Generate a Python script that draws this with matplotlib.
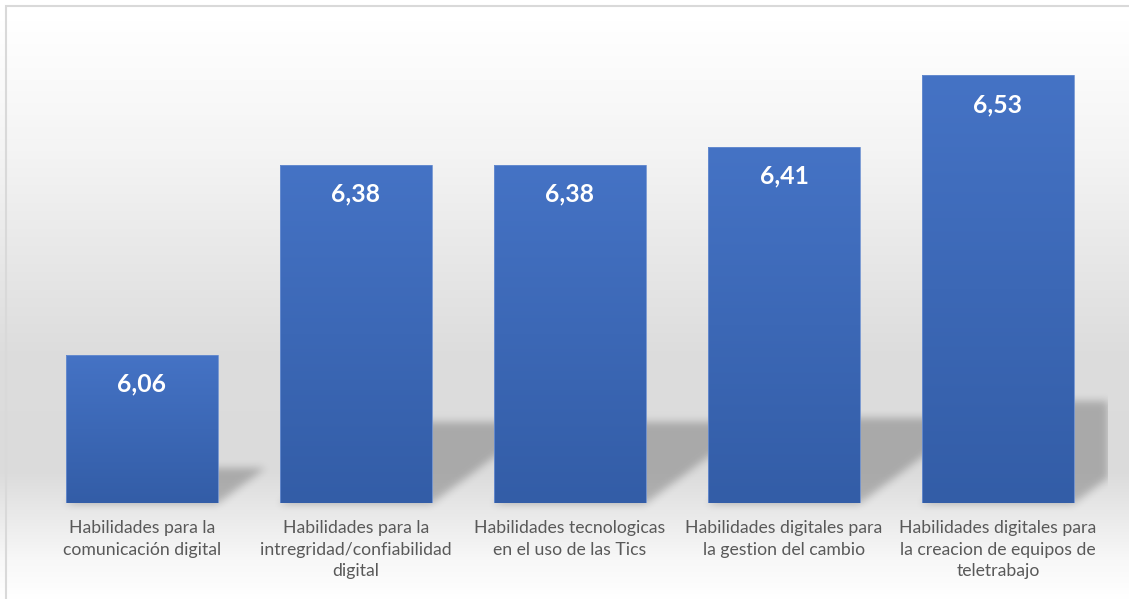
import numpy as np
import matplotlib
matplotlib.use("Agg")
import matplotlib.pyplot as plt
from matplotlib.colors import LinearSegmentedColormap
from matplotlib.patches import Rectangle

categories = [
    "Habilidades para la\ncomunicación digital",
    "Habilidades para la\nintregridad/confiabilidad\ndigital",
    "Habilidades tecnologicas\nen el uso de las Tics",
    "Habilidades digitales para\nla gestion del cambio",
    "Habilidades digitales para\nla creacion de equipos de\nteletrabajo",
]
values = [6.06, 6.38, 6.38, 6.41, 6.53]
value_labels = ["6,06", "6,38", "6,38", "6,41", "6,53"]

W, H = 1129, 599
fig = plt.figure(figsize=(W / 100, H / 100), dpi=100)

# background gradient (figure-wide)
bg = fig.add_axes([0, 0, 1, 1], zorder=-10)
bg.set_axis_off()
ys = np.arange(H)
stops_y = [0, 20, 150, 350, 470, 510, 560, 599]
stops_c = [255, 255, 244, 221, 219, 232, 248, 255]
col = np.interp(ys, stops_y, stops_c) / 255.0
grad = np.repeat(col[:, None], W, axis=1)
rgb = np.dstack([grad, grad, grad])
bg.imshow(rgb, extent=[0, W, H, 0], aspect="auto", interpolation="bilinear")
bg.set_xlim(0, W)
bg.set_ylim(H, 0)

ymin, ymax = 5.81, 6.60
ax_left, ax_right = 35, 1105
ax_bottom_px = 503
ax_top_px = ax_bottom_px - (ymax - ymin) * 593.75
ax = fig.add_axes([ax_left / W, (H - ax_bottom_px) / H,
                   (ax_right - ax_left) / W, (ax_bottom_px - ax_top_px) / H])
ax.set_facecolor("none")
x = np.arange(len(values))
ax.set_xlim(-0.5, len(values) - 0.5)
ax.set_ylim(ymin, ymax)

bars = ax.bar(x, values, width=0.71, bottom=0, color="none",
              edgecolor="#6b8fd0", linewidth=0.6, zorder=3)
ax.set_ylim(ymin, ymax)

# shadows (computed in pixel space from bar geometry)
fig.canvas.draw()
mask = np.zeros((H, W))
for b in bars:
    (x0, yb), (x1, yt) = ax.transData.transform(
        [(b.get_x(), ymin), (b.get_x() + b.get_width(), b.get_height())])
    hpx = yt - yb
    s = 0.24 * hpx
    base_row = H - yb
    for r in range(int(base_row - s), int(base_row) + 1):
        d = base_row - r
        if d < 0 or d > s:
            continue
        sh = 1.35 * d
        c0 = int(max(x0 + sh, 0))
        c1 = int(min(x1 + sh, ax_right + 3))
        if c1 > c0:
            mask[r, c0:c1] = 1.0
sig = 4.0
k = np.arange(-12, 13)
ker = np.exp(-k ** 2 / (2 * sig ** 2))
ker /= ker.sum()
mask = np.apply_along_axis(lambda m: np.convolve(m, ker, mode="same"), 1, mask)
mask = np.apply_along_axis(lambda m: np.convolve(m, ker, mode="same"), 0, mask)
mask[:, ax_right + 3:] = 0
shadow = np.zeros((H, W, 4))
shadow[..., 3] = 0.23 * mask
bg.imshow(shadow, extent=[0, W, H, 0], aspect="auto", interpolation="bilinear", zorder=2)
bg.set_xlim(0, W)
bg.set_ylim(H, 0)

# bar gradients
cmap = LinearSegmentedColormap.from_list("bargrad", ["#335DA7", "#4573C5"])
gvals = np.linspace(0, 1, 256)[:, None]
for b in bars:
    im = ax.imshow(gvals, extent=[b.get_x(), b.get_x() + b.get_width(), ymin, b.get_height()],
                   origin="lower", cmap=cmap, aspect="auto", zorder=2, interpolation="bilinear")
    im.set_clip_path(b)
ax.set_xlim(-0.5, len(values) - 0.5)
ax.set_ylim(ymin, ymax)

for xi, v, lab in zip(x, values, value_labels):
    ax.annotate(lab, (xi, v), xytext=(0, -21), textcoords="offset points",
                ha="center", va="center", color="white", fontsize=17.8,
                fontweight="bold", family="Lato", zorder=5)

ax.set_xticks(x)
ax.set_xticklabels(categories, fontsize=12.7, color="#595959", family="Lato",
                   linespacing=1.45, va="top")
ax.tick_params(axis="x", length=0, pad=12)
ax.set_yticks([])
for sp in ax.spines.values():
    sp.set_visible(False)

# chart border (top/left visible)
fig.add_artist(Rectangle((6 / W, -0.1), 1.2, (H - 6) / H + 0.1, transform=fig.transFigure,
                         fill=False, edgecolor="#d9d9d9", linewidth=1.5, zorder=20))

fig.savefig("out.png", dpi=100)
